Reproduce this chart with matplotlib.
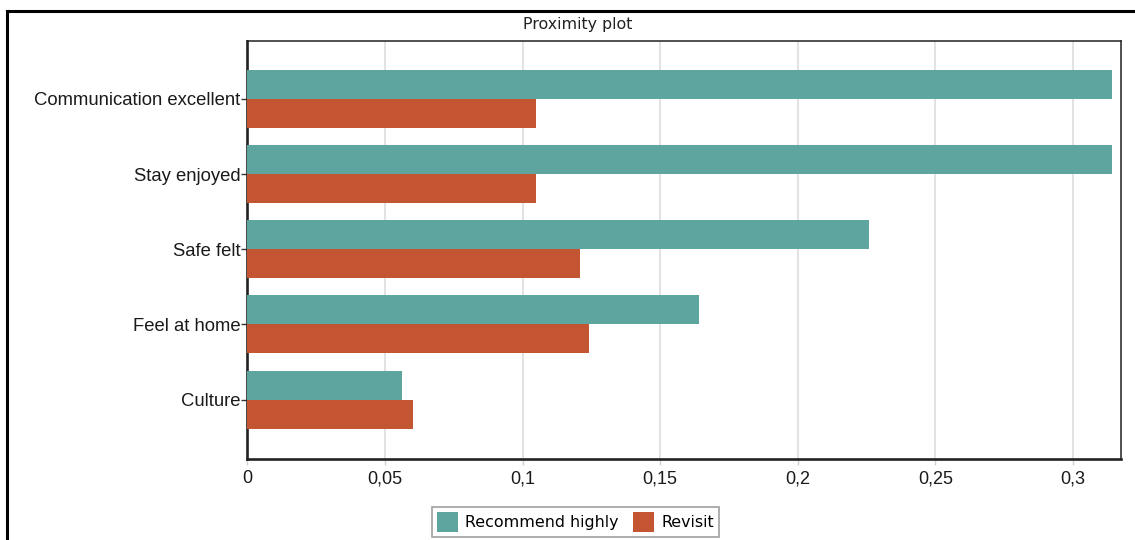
import numpy as np
import matplotlib
matplotlib.use("Agg")
import matplotlib.pyplot as plt
from matplotlib.ticker import FixedLocator, FuncFormatter
from matplotlib.lines import Line2D

# data
categories = ["Communication excellent", "Stay enjoyed", "Safe felt", "Feel at home", "Culture"]
recommend_highly = [0.3142, 0.3142, 0.226, 0.164, 0.0563]
revisit = [0.105, 0.105, 0.121, 0.124, 0.060]
x_ticks = [0, 0.05, 0.1, 0.15, 0.2, 0.25, 0.3]

teal = '#5ea59f'
rust = '#c45533'

fig = plt.figure(figsize=(11.35, 5.4), dpi=100)
ax = fig.add_axes([0.218, 0.150, 0.770, 0.774])

y = np.arange(len(categories))
h = 0.385
ax.barh(y - h / 2, recommend_highly, height=h, color=teal, label='Recommend highly', zorder=3)
ax.barh(y + h / 2, revisit, height=h, color=rust, label='Revisit', zorder=3)

ax.set_xlim(0, 0.3176)
ax.set_ylim(4.79, -0.77)

ax.set_yticks(y)
ax.set_yticklabels(categories, family='Liberation Sans', fontsize=13.3, color='#1a1a1a')
ax.xaxis.set_major_locator(FixedLocator(x_ticks))
ax.xaxis.set_major_formatter(FuncFormatter(lambda v, p: ('%g' % v).replace('.', ',')))
for lab in ax.get_xticklabels():
    lab.set_family('Liberation Sans')
    lab.set_fontsize(13)
    lab.set_color('#1a1a1a')

ax.tick_params(axis='y', length=4, width=1, color='#333333', pad=1)
ax.tick_params(axis='x', length=4, width=1, color='#d0d0d0', pad=4)
ax.xaxis.grid(True, color='#dddddd', linewidth=1.2, zorder=0)
ax.set_axisbelow(True)

for side in ['left', 'bottom']:
    ax.spines[side].set_linewidth(1.9)
    ax.spines[side].set_color('#222222')
for side in ['top', 'right']:
    ax.spines[side].set_linewidth(1.1)
    ax.spines[side].set_color('#222222')

fig.text(0.509, 0.954, 'Proximity plot', ha='center', va='center',
         family='DejaVu Sans', fontsize=11.4, color='#222222')

leg = fig.legend(loc='center', bbox_to_anchor=(0.507, 0.033), ncol=2,
                 prop={'family': 'DejaVu Sans', 'size': 11.4},
                 frameon=True, fancybox=False, edgecolor='#888888',
                 handlelength=1.35, handleheight=1.6, handletextpad=0.45,
                 columnspacing=0.9, borderpad=0.3, borderaxespad=0)
leg.get_frame().set_linewidth(1.2)

# outer frame (only left and top edges show in the crop)
fig.add_artist(Line2D([7 / 1135, 7 / 1135], [0, 1 - 11 / 540], color='black', linewidth=2.2))
fig.add_artist(Line2D([7 / 1135, 1], [1 - 11 / 540, 1 - 11 / 540], color='black', linewidth=2.2))

fig.savefig('out.png', dpi=100, facecolor='white')
